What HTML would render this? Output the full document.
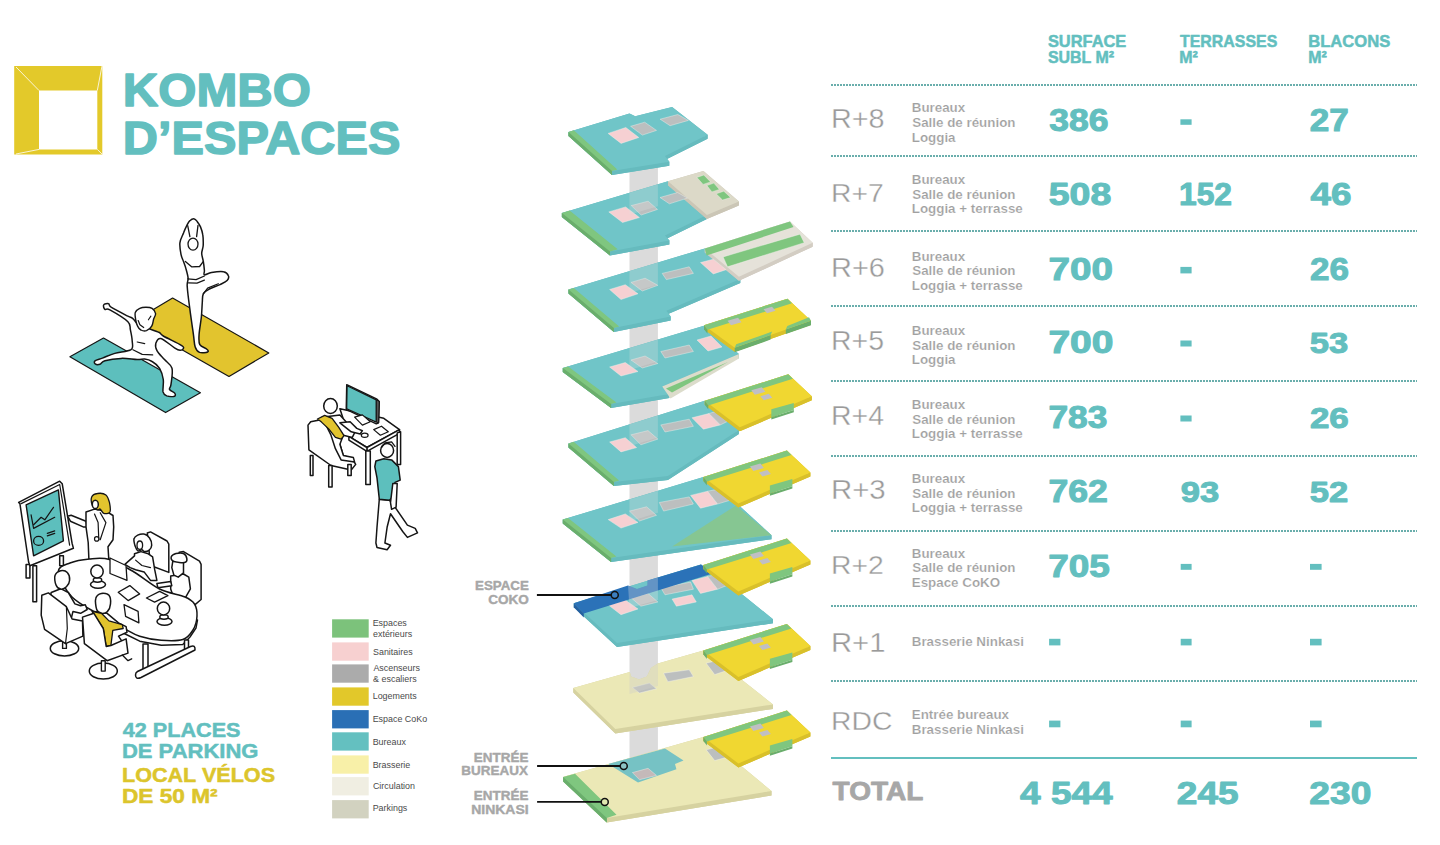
<!DOCTYPE html>
<html><head><meta charset="utf-8"><style>
html,body{margin:0;padding:0;background:#fff;width:1440px;height:845px;overflow:hidden}
svg{display:block;position:absolute;left:0;top:0}
text{font-family:"Liberation Sans",sans-serif}
</style></head><body>
<svg width="1440" height="845" viewBox="0 0 1440 845">
<defs><pattern id="dots" x="0" y="0" width="3" height="4" patternUnits="userSpaceOnUse"><rect x="0" y="0" width="2" height="4" fill="#6aaeac"/></pattern></defs>
<rect x="831" y="84" width="586" height="2" fill="url(#dots)"/>
<rect x="831" y="155" width="586" height="2" fill="url(#dots)"/>
<rect x="831" y="230" width="586" height="2" fill="url(#dots)"/>
<rect x="831" y="305" width="586" height="2" fill="url(#dots)"/>
<rect x="831" y="380" width="586" height="2" fill="url(#dots)"/>
<rect x="831" y="455" width="586" height="2" fill="url(#dots)"/>
<rect x="831" y="530" width="586" height="2" fill="url(#dots)"/>
<rect x="831" y="605" width="586" height="2" fill="url(#dots)"/>
<rect x="831" y="680" width="586" height="2" fill="url(#dots)"/>
<rect x="831" y="757" width="586" height="2" fill="#63bfbf"/>
<rect x="332.1" y="619.3" width="36.6" height="18.3" fill="#7cc27b"/>
<rect x="332.1" y="642.4" width="36.6" height="18.3" fill="#f7d0d0"/>
<rect x="332.1" y="664.4" width="36.6" height="18.3" fill="#ababab"/>
<rect x="332.1" y="687.4" width="36.6" height="18.3" fill="#e2c82a"/>
<rect x="332.1" y="710.1" width="36.6" height="18.3" fill="#2a6fb5"/>
<rect x="332.1" y="732.3" width="36.6" height="18.3" fill="#64c0c0"/>
<rect x="332.1" y="755.4" width="36.6" height="18.3" fill="#f8f0a8"/>
<rect x="332.1" y="777.1" width="36.6" height="18.3" fill="#f0eee2"/>
<rect x="332.1" y="800.1" width="36.6" height="18.3" fill="#d2d2c0"/>
<polygon points="14.2,65.9 102.3,65.9 102.3,154.4 14.2,154.4" fill="#e3c92a"/>
<polygon points="39,90.5 97.3,90.5 97.3,149.4 39,149.4" fill="#fff"/>
<g stroke="#fff" stroke-width="0.8" fill="none"><line x1="16" y1="67" x2="39" y2="90.5"/><line x1="102" y1="66" x2="97.3" y2="90.5"/><line x1="16" y1="154" x2="39" y2="149.4"/><line x1="102" y1="154" x2="97.3" y2="149.4"/></g>
<rect x="629.5" y="150" width="28.4" height="625" fill="#dbdbdb"/>
<polygon points="568.5,135.9 629.5,117.5 635.2,120.3 672.1,110.9 707.6,138.8 665.0,160.1 669.3,165.7 612.0,175.0" fill="#66bbbe"/>
<polygon points="568.5,131.9 629.5,113.5 629.5,117.5 568.5,135.9" fill="#66bbbe"/>
<polygon points="629.5,113.5 635.2,116.3 635.2,120.3 629.5,117.5" fill="#66bbbe"/>
<polygon points="635.2,116.3 672.1,106.9 672.1,110.9 635.2,120.3" fill="#66bbbe"/>
<polygon points="672.1,106.9 707.6,134.8 707.6,138.8 672.1,110.9" fill="#66bbbe"/>
<polygon points="707.6,134.8 665.0,156.1 665.0,160.1 707.6,138.8" fill="#66bbbe"/>
<polygon points="665.0,156.1 669.3,161.7 669.3,165.7 665.0,160.1" fill="#66bbbe"/>
<polygon points="669.3,161.7 612.0,171.0 612.0,175.0 669.3,165.7" fill="#66bbbe"/>
<polygon points="612.0,171.0 568.5,131.9 568.5,135.9 612.0,175.0" fill="#66bbbe"/>
<polygon points="568.5,131.9 629.5,113.5 635.2,116.3 672.1,106.9 707.6,134.8 665.0,156.1 669.3,161.7 612.0,171.0" fill="#70c5c8"/>
<polygon points="568.5,131.9 573.8,130.3 617.3,169.4 612.0,171.0 612.0,175.0 568.5,135.9" fill="#7fc67f"/>
<polygon points="612.0,171.0 612.0,175.0 568.5,135.9 568.5,131.9" fill="#6aae6c"/>
<polygon points="608.1,133.4 625.8,127.5 638.8,137.5 621.1,143.4" fill="#f6d0d2" stroke="#f4f4f0" stroke-opacity="0.5" stroke-width="0.8"/>
<polygon points="630.6,126.3 644.7,122.2 656.5,130.4 642.4,135.1" fill="#bcbfbf" stroke="#f4f4f0" stroke-opacity="0.5" stroke-width="0.8"/>
<polygon points="660.1,119.2 677.8,114.5 688.4,120.4 670.1,125.7" fill="#bcbfbf" stroke="#f4f4f0" stroke-opacity="0.5" stroke-width="0.8"/>
<polygon points="561.9,216.9 668.0,185.3 706.9,219.0 665.0,239.5 669.4,244.5 610.0,255.5" fill="#66bbbe"/>
<polygon points="561.9,212.9 668.0,181.3 668.0,185.3 561.9,216.9" fill="#66bbbe"/>
<polygon points="668.0,181.3 706.9,215.0 706.9,219.0 668.0,185.3" fill="#66bbbe"/>
<polygon points="706.9,215.0 665.0,235.5 665.0,239.5 706.9,219.0" fill="#66bbbe"/>
<polygon points="665.0,235.5 669.4,240.5 669.4,244.5 665.0,239.5" fill="#66bbbe"/>
<polygon points="669.4,240.5 610.0,251.5 610.0,255.5 669.4,244.5" fill="#66bbbe"/>
<polygon points="610.0,251.5 561.9,212.9 561.9,216.9 610.0,255.5" fill="#66bbbe"/>
<polygon points="561.9,212.9 668.0,181.3 706.9,215.0 665.0,235.5 669.4,240.5 610.0,251.5" fill="#70c5c8"/>
<polygon points="561.9,212.9 569.6,210.6 617.7,249.2 610.0,251.5 610.0,255.5 561.9,216.9" fill="#7fc67f"/>
<polygon points="610.0,251.5 610.0,255.5 561.9,216.9 561.9,212.9" fill="#6aae6c"/>
<polygon points="668.0,185.3 703.4,175.1 738.9,205.5 706.9,219.0" fill="#cbc6b6"/>
<polygon points="668.0,181.3 703.4,171.1 703.4,175.1 668.0,185.3" fill="#cbc6b6"/>
<polygon points="703.4,171.1 738.9,201.5 738.9,205.5 703.4,175.1" fill="#cbc6b6"/>
<polygon points="738.9,201.5 706.9,215.0 706.9,219.0 738.9,205.5" fill="#cbc6b6"/>
<polygon points="706.9,215.0 668.0,181.3 668.0,185.3 706.9,219.0" fill="#cbc6b6"/>
<polygon points="668.0,181.3 703.4,171.1 738.9,201.5 706.9,215.0" fill="#dcd9c8"/>
<polygon points="696.9,177.5 703.8,175.0 710.6,181.9 703.1,184.4" fill="#7fc67f" stroke="#f4f4f0" stroke-opacity="0.5" stroke-width="0.8"/>
<polygon points="706.9,185.6 713.8,183.1 719.4,189.4 711.9,191.9" fill="#7fc67f" stroke="#f4f4f0" stroke-opacity="0.5" stroke-width="0.8"/>
<polygon points="716.2,193.8 723.8,191.2 730.6,197.5 722.5,200.0" fill="#7fc67f" stroke="#f4f4f0" stroke-opacity="0.5" stroke-width="0.8"/>
<polygon points="608.8,211.9 625.6,206.9 639.4,217.5 622.5,222.5" fill="#f6d0d2" stroke="#f4f4f0" stroke-opacity="0.5" stroke-width="0.8"/>
<polygon points="631.2,205.6 648.1,201.2 657.5,209.4 641.2,215.0" fill="#bcbfbf" stroke="#f4f4f0" stroke-opacity="0.5" stroke-width="0.8"/>
<polygon points="660.0,197.5 677.5,192.5 687.5,198.1 669.4,203.8" fill="#bcbfbf" stroke="#f4f4f0" stroke-opacity="0.5" stroke-width="0.8"/>
<polygon points="629.5,192.8 657.9,184.3 657.9,206.3 629.5,214.8" fill="#e0e0e0" fill-opacity="0.28"/>
<polygon points="568.5,293.5 704.8,252.4 740.3,283.0 666.4,314.8 670.7,320.5 613.9,332.0" fill="#66bbbe"/>
<polygon points="568.5,289.5 704.8,248.4 704.8,252.4 568.5,293.5" fill="#66bbbe"/>
<polygon points="704.8,248.4 740.3,279.0 740.3,283.0 704.8,252.4" fill="#66bbbe"/>
<polygon points="740.3,279.0 666.4,310.8 666.4,314.8 740.3,283.0" fill="#66bbbe"/>
<polygon points="666.4,310.8 670.7,316.5 670.7,320.5 666.4,314.8" fill="#66bbbe"/>
<polygon points="670.7,316.5 613.9,328.0 613.9,332.0 670.7,320.5" fill="#66bbbe"/>
<polygon points="613.9,328.0 568.5,289.5 568.5,293.5 613.9,332.0" fill="#66bbbe"/>
<polygon points="568.5,289.5 704.8,248.4 740.3,279.0 666.4,310.8 670.7,316.5 613.9,328.0" fill="#70c5c8"/>
<polygon points="568.5,289.5 573.8,287.9 619.2,326.4 613.9,328.0 613.9,332.0 568.5,293.5" fill="#7fc67f"/>
<polygon points="613.9,328.0 613.9,332.0 568.5,293.5 568.5,289.5" fill="#6aae6c"/>
<polygon points="704.8,252.4 790.0,225.4 812.7,246.7 738.9,280.8" fill="#d3cdc3"/>
<polygon points="704.8,248.4 790.0,221.4 790.0,225.4 704.8,252.4" fill="#d3cdc3"/>
<polygon points="790.0,221.4 812.7,242.7 812.7,246.7 790.0,225.4" fill="#d3cdc3"/>
<polygon points="812.7,242.7 738.9,276.8 738.9,280.8 812.7,246.7" fill="#d3cdc3"/>
<polygon points="738.9,276.8 704.8,248.4 704.8,252.4 738.9,280.8" fill="#d3cdc3"/>
<polygon points="704.8,248.4 790.0,221.4 812.7,242.7 738.9,276.8" fill="#e5e2d9"/>
<polygon points="704.8,248.4 790.0,221.4 793.5,227.0 706.5,255.5" fill="#7fc67f"/>
<polygon points="723.2,256.9 800.0,234.2 804.2,242.7 727.5,266.8" fill="#7fc67f" stroke="#f4f4f0" stroke-opacity="0.5" stroke-width="0.8"/>
<polygon points="609.6,289.5 625.3,284.7 638.0,293.8 621.0,299.5" fill="#f6d0d2" stroke="#f4f4f0" stroke-opacity="0.5" stroke-width="0.8"/>
<polygon points="631.0,282.4 645.1,278.2 657.9,285.3 642.3,291.0" fill="#bcbfbf" stroke="#f4f4f0" stroke-opacity="0.5" stroke-width="0.8"/>
<polygon points="662.2,273.4 689.2,266.8 693.4,273.4 666.4,279.6" fill="#bcbfbf" stroke="#f4f4f0" stroke-opacity="0.5" stroke-width="0.8"/>
<polygon points="700.5,262.6 713.3,259.2 726.1,269.7 713.3,273.9" fill="#f6d0d2" stroke="#f4f4f0" stroke-opacity="0.5" stroke-width="0.8"/>
<polygon points="629.5,271.1 657.9,262.5 657.9,284.5 629.5,293.1" fill="#e0e0e0" fill-opacity="0.28"/>
<polygon points="562.8,372.1 704.8,329.5 738.9,358.0 662.2,390.6 669.3,398.0 611.1,408.0" fill="#66bbbe"/>
<polygon points="562.8,368.1 704.8,325.5 704.8,329.5 562.8,372.1" fill="#66bbbe"/>
<polygon points="704.8,325.5 738.9,354.0 738.9,358.0 704.8,329.5" fill="#66bbbe"/>
<polygon points="738.9,354.0 662.2,386.6 662.2,390.6 738.9,358.0" fill="#66bbbe"/>
<polygon points="662.2,386.6 669.3,394.0 669.3,398.0 662.2,390.6" fill="#66bbbe"/>
<polygon points="669.3,394.0 611.1,404.0 611.1,408.0 669.3,398.0" fill="#66bbbe"/>
<polygon points="611.1,404.0 562.8,368.1 562.8,372.1 611.1,408.0" fill="#66bbbe"/>
<polygon points="562.8,368.1 704.8,325.5 738.9,354.0 662.2,386.6 669.3,394.0 611.1,404.0" fill="#70c5c8"/>
<polygon points="562.8,368.1 568.1,366.5 616.4,402.4 611.1,404.0 611.1,408.0 562.8,372.1" fill="#7fc67f"/>
<polygon points="611.1,404.0 611.1,408.0 562.8,372.1 562.8,368.1" fill="#6aae6c"/>
<polygon points="662.2,386.6 738.9,354.0 738.9,358.5 670.5,398.5" fill="#dcdccb"/>
<polygon points="666.0,388.5 728.0,362.0 672.0,392.5" fill="#7fc67f"/>
<polygon points="609.6,367.0 625.3,362.5 638.0,371.5 621.0,376.0" fill="#f6d0d2" stroke="#f4f4f0" stroke-opacity="0.5" stroke-width="0.8"/>
<polygon points="631.0,360.0 645.1,356.0 657.9,363.5 642.3,368.0" fill="#bcbfbf" stroke="#f4f4f0" stroke-opacity="0.5" stroke-width="0.8"/>
<polygon points="660.8,351.5 689.2,345.0 693.4,351.5 665.0,358.0" fill="#bcbfbf" stroke="#f4f4f0" stroke-opacity="0.5" stroke-width="0.8"/>
<polygon points="697.0,340.0 711.0,336.0 722.0,347.0 708.0,351.0" fill="#f6d0d2" stroke="#f4f4f0" stroke-opacity="0.5" stroke-width="0.8"/>
<polygon points="629.5,348.1 657.9,339.6 657.9,361.6 629.5,370.1" fill="#e0e0e0" fill-opacity="0.28"/>
<polygon points="704.0,329.2 787.5,302.7 811.0,324.7 734.7,351.8" fill="#d9c02a"/>
<polygon points="704.0,325.2 787.5,298.7 787.5,302.7 704.0,329.2" fill="#d9c02a"/>
<polygon points="787.5,298.7 811.0,320.7 811.0,324.7 787.5,302.7" fill="#d9c02a"/>
<polygon points="811.0,320.7 734.7,347.8 734.7,351.8 811.0,324.7" fill="#d9c02a"/>
<polygon points="734.7,347.8 704.0,325.2 704.0,329.2 734.7,351.8" fill="#d9c02a"/>
<polygon points="704.0,325.2 787.5,298.7 811.0,320.7 734.7,347.8" fill="#f0d731"/>
<polygon points="704.0,325.2 787.5,298.7 792.0,303.2 707.5,329.8" fill="#7fc67f"/>
<polygon points="704.0,325.2 707.5,329.8 707.5,333.8 704.0,329.2" fill="#6aae6c"/>
<polygon points="734.7,347.8 770.6,335.1 770.6,339.6 734.7,352.3" fill="#6aae6c"/>
<polygon points="734.7,347.8 736.2,344.3 772.1,331.6 770.6,335.1" fill="#7fc67f"/>
<polygon points="785.8,329.6 811.0,320.7 811.0,325.2 785.8,334.1" fill="#6aae6c"/>
<polygon points="785.8,329.6 787.3,326.1 809.0,317.2 811.0,320.7" fill="#7fc67f"/>
<polygon points="727.5,320.7 738.0,317.7 741.5,322.2 731.0,325.2" fill="#c0bfc4"/>
<polygon points="763.5,309.2 772.0,306.7 775.5,310.7 767.0,313.2" fill="#c0bfc4"/>
<polygon points="568.5,447.4 704.8,404.8 738.9,434.0 667.9,480.0 613.9,486.0" fill="#66bbbe"/>
<polygon points="568.5,443.4 704.8,400.8 704.8,404.8 568.5,447.4" fill="#66bbbe"/>
<polygon points="704.8,400.8 738.9,430.0 738.9,434.0 704.8,404.8" fill="#66bbbe"/>
<polygon points="738.9,430.0 667.9,476.0 667.9,480.0 738.9,434.0" fill="#66bbbe"/>
<polygon points="667.9,476.0 613.9,482.0 613.9,486.0 667.9,480.0" fill="#66bbbe"/>
<polygon points="613.9,482.0 568.5,443.4 568.5,447.4 613.9,486.0" fill="#66bbbe"/>
<polygon points="568.5,443.4 704.8,400.8 738.9,430.0 667.9,476.0 613.9,482.0" fill="#70c5c8"/>
<polygon points="568.5,443.4 573.7,441.8 619.1,480.4 613.9,482.0 613.9,486.0 568.5,447.4" fill="#7fc67f"/>
<polygon points="613.9,482.0 613.9,486.0 568.5,447.4 568.5,443.4" fill="#6aae6c"/>
<polygon points="609.6,442.0 625.3,437.7 636.6,447.6 621.0,451.9" fill="#f6d0d2" stroke="#f4f4f0" stroke-opacity="0.5" stroke-width="0.8"/>
<polygon points="631.0,434.8 648.0,430.6 657.9,439.1 640.9,444.8" fill="#bcbfbf" stroke="#f4f4f0" stroke-opacity="0.5" stroke-width="0.8"/>
<polygon points="660.8,424.9 689.2,419.2 693.4,426.3 665.0,432.0" fill="#bcbfbf" stroke="#f4f4f0" stroke-opacity="0.5" stroke-width="0.8"/>
<polygon points="692.0,417.8 709.0,413.5 720.4,424.9 703.4,429.2" fill="#f6d0d2" stroke="#f4f4f0" stroke-opacity="0.5" stroke-width="0.8"/>
<polygon points="709.0,413.5 723.2,409.3 731.8,419.2 720.4,424.9" fill="#bcbfbf" stroke="#f4f4f0" stroke-opacity="0.5" stroke-width="0.8"/>
<polygon points="629.5,424.3 657.9,415.5 657.9,437.5 629.5,446.3" fill="#e0e0e0" fill-opacity="0.28"/>
<polygon points="704.8,404.8 788.3,378.3 811.8,400.3 739.8,431.3" fill="#d9c02a"/>
<polygon points="704.8,400.8 788.3,374.3 788.3,378.3 704.8,404.8" fill="#d9c02a"/>
<polygon points="788.3,374.3 811.8,396.3 811.8,400.3 788.3,378.3" fill="#d9c02a"/>
<polygon points="811.8,396.3 739.8,427.3 739.8,431.3 811.8,400.3" fill="#d9c02a"/>
<polygon points="739.8,427.3 704.8,400.8 704.8,404.8 739.8,431.3" fill="#d9c02a"/>
<polygon points="704.8,400.8 788.3,374.3 811.8,396.3 739.8,427.3" fill="#f0d731"/>
<polygon points="704.8,400.8 788.3,374.3 792.8,378.8 708.3,405.4" fill="#7fc67f"/>
<polygon points="704.8,400.8 708.3,405.4 708.3,409.4 704.8,404.8" fill="#6aae6c"/>
<polygon points="771.3,409.2 793.8,402.9 793.8,410.1 771.3,417.3" fill="#7fc67f"/>
<polygon points="771.3,417.3 793.8,410.1 793.8,412.3 771.3,419.5" fill="#6aae6c"/>
<polygon points="751.3,390.3 761.8,387.3 765.3,391.8 754.8,394.8" fill="#c0bfc4"/>
<polygon points="760.3,396.3 768.8,393.8 772.3,397.8 763.8,400.3" fill="#c0bfc4"/>
<polygon points="562.8,523.6 703.4,481.0 737.4,508.0 771.5,539.2 611.1,562.0" fill="#66bbbe"/>
<polygon points="562.8,519.6 703.4,477.0 703.4,481.0 562.8,523.6" fill="#66bbbe"/>
<polygon points="703.4,477.0 737.4,504.0 737.4,508.0 703.4,481.0" fill="#66bbbe"/>
<polygon points="737.4,504.0 771.5,535.2 771.5,539.2 737.4,508.0" fill="#66bbbe"/>
<polygon points="771.5,535.2 611.1,558.0 611.1,562.0 771.5,539.2" fill="#66bbbe"/>
<polygon points="611.1,558.0 562.8,519.6 562.8,523.6 611.1,562.0" fill="#66bbbe"/>
<polygon points="562.8,519.6 703.4,477.0 737.4,504.0 771.5,535.2 611.1,558.0" fill="#70c5c8"/>
<polygon points="562.8,519.6 568.1,518.0 616.4,556.4 611.1,558.0 611.1,562.0 562.8,523.6" fill="#7fc67f"/>
<polygon points="611.1,558.0 611.1,562.0 562.8,523.6 562.8,519.6" fill="#6aae6c"/>
<polygon points="672.1,546.6 736.0,505.4 771.5,535.2" fill="#86c692"/>
<polygon points="608.2,519.6 625.3,513.9 638.0,522.4 621.0,528.1" fill="#f6d0d2" stroke="#f4f4f0" stroke-opacity="0.5" stroke-width="0.8"/>
<polygon points="629.5,511.1 646.6,506.8 656.5,515.3 639.5,521.0" fill="#bcbfbf" stroke="#f4f4f0" stroke-opacity="0.5" stroke-width="0.8"/>
<polygon points="659.3,502.5 689.2,496.9 693.4,504.0 663.6,511.1" fill="#bcbfbf" stroke="#f4f4f0" stroke-opacity="0.5" stroke-width="0.8"/>
<polygon points="690.6,495.4 707.6,491.2 717.6,504.0 700.5,508.2" fill="#f6d0d2" stroke="#f4f4f0" stroke-opacity="0.5" stroke-width="0.8"/>
<polygon points="707.6,491.2 723.2,488.3 731.8,499.7 717.6,504.0" fill="#bcbfbf" stroke="#f4f4f0" stroke-opacity="0.5" stroke-width="0.8"/>
<polygon points="629.5,499.4 657.9,490.8 657.9,512.8 629.5,521.4" fill="#e0e0e0" fill-opacity="0.28"/>
<polygon points="703.4,481.0 786.9,454.5 810.4,476.5 738.4,507.5" fill="#d9c02a"/>
<polygon points="703.4,477.0 786.9,450.5 786.9,454.5 703.4,481.0" fill="#d9c02a"/>
<polygon points="786.9,450.5 810.4,472.5 810.4,476.5 786.9,454.5" fill="#d9c02a"/>
<polygon points="810.4,472.5 738.4,503.5 738.4,507.5 810.4,476.5" fill="#d9c02a"/>
<polygon points="738.4,503.5 703.4,477.0 703.4,481.0 738.4,507.5" fill="#d9c02a"/>
<polygon points="703.4,477.0 786.9,450.5 810.4,472.5 738.4,503.5" fill="#f0d731"/>
<polygon points="703.4,477.0 786.9,450.5 791.4,455.0 706.9,481.6" fill="#7fc67f"/>
<polygon points="703.4,477.0 706.9,481.6 706.9,485.6 703.4,481.0" fill="#6aae6c"/>
<polygon points="769.9,485.4 792.4,479.1 792.4,486.3 769.9,493.5" fill="#7fc67f"/>
<polygon points="769.9,493.5 792.4,486.3 792.4,488.5 769.9,495.7" fill="#6aae6c"/>
<polygon points="749.9,466.5 760.4,463.5 763.9,468.0 753.4,471.0" fill="#c0bfc4"/>
<polygon points="758.9,472.5 767.4,470.0 770.9,474.0 762.4,476.5" fill="#c0bfc4"/>
<polygon points="573.8,607.3 701.0,568.6 737.4,594.6 773.0,623.2 617.0,647.0" fill="#66bbbe"/>
<polygon points="573.8,603.3 701.0,564.6 701.0,568.6 573.8,607.3" fill="#66bbbe"/>
<polygon points="701.0,564.6 737.4,590.6 737.4,594.6 701.0,568.6" fill="#66bbbe"/>
<polygon points="737.4,590.6 773.0,619.2 773.0,623.2 737.4,594.6" fill="#66bbbe"/>
<polygon points="773.0,619.2 617.0,643.0 617.0,647.0 773.0,623.2" fill="#66bbbe"/>
<polygon points="617.0,643.0 573.8,603.3 573.8,607.3 617.0,647.0" fill="#66bbbe"/>
<polygon points="573.8,603.3 701.0,564.6 737.4,590.6 773.0,619.2 617.0,643.0" fill="#70c5c8"/>
<polygon points="608.2,604.8 625.3,600.0 638.0,609.0 621.0,614.7" fill="#f6d0d2" stroke="#f4f4f0" stroke-opacity="0.5" stroke-width="0.8"/>
<polygon points="631.0,597.7 648.0,593.4 657.9,602.0 640.9,606.2" fill="#bcbfbf" stroke="#f4f4f0" stroke-opacity="0.5" stroke-width="0.8"/>
<polygon points="660.8,587.7 690.6,582.1 693.4,589.2 665.0,594.8" fill="#bcbfbf" stroke="#f4f4f0" stroke-opacity="0.5" stroke-width="0.8"/>
<polygon points="692.0,580.6 707.6,576.4 717.6,589.2 700.5,593.4" fill="#f6d0d2" stroke="#f4f4f0" stroke-opacity="0.5" stroke-width="0.8"/>
<polygon points="707.6,576.4 723.2,573.5 731.8,583.5 717.6,589.2" fill="#bcbfbf" stroke="#f4f4f0" stroke-opacity="0.5" stroke-width="0.8"/>
<polygon points="672.1,599.1 692.0,594.8 696.3,602.0 676.4,606.2" fill="#f6d0d2" stroke="#f4f4f0" stroke-opacity="0.5" stroke-width="0.8"/>
<polygon points="573.8,603.3 628.0,585.6 637.0,589.0 647.5,585.6 647.5,580.5 701.0,564.6 712.5,573.5 583.8,613.5" fill="#2b72b8"/>
<polygon points="573.8,603.3 583.8,613.5 583.8,617.5 573.8,607.3" fill="#2560a0"/>
<polygon points="628.0,585.6 637.0,589.0 647.5,585.6 647.5,580.5 657.9,577.5 657.9,600.0 629.5,608.0" fill="#e6e6e6" fill-opacity="0.3"/>
<polygon points="703.4,569.0 786.9,542.5 810.4,564.5 738.4,595.5" fill="#d9c02a"/>
<polygon points="703.4,565.0 786.9,538.5 786.9,542.5 703.4,569.0" fill="#d9c02a"/>
<polygon points="786.9,538.5 810.4,560.5 810.4,564.5 786.9,542.5" fill="#d9c02a"/>
<polygon points="810.4,560.5 738.4,591.5 738.4,595.5 810.4,564.5" fill="#d9c02a"/>
<polygon points="738.4,591.5 703.4,565.0 703.4,569.0 738.4,595.5" fill="#d9c02a"/>
<polygon points="703.4,565.0 786.9,538.5 810.4,560.5 738.4,591.5" fill="#f0d731"/>
<polygon points="703.4,565.0 786.9,538.5 791.4,543.0 706.9,569.6" fill="#7fc67f"/>
<polygon points="703.4,565.0 706.9,569.6 706.9,573.6 703.4,569.0" fill="#6aae6c"/>
<polygon points="769.9,573.4 792.4,567.1 792.4,574.3 769.9,581.5" fill="#7fc67f"/>
<polygon points="769.9,581.5 792.4,574.3 792.4,576.5 769.9,583.7" fill="#6aae6c"/>
<polygon points="749.9,554.5 760.4,551.5 763.9,556.0 753.4,559.0" fill="#c0bfc4"/>
<polygon points="758.9,560.5 767.4,558.0 770.9,562.0 762.4,564.5" fill="#c0bfc4"/>
<polygon points="573.3,692.4 629.8,676.6 631.0,681.0 639.0,684.0 647.0,681.0 651.0,672.5 657.9,668.1 703.4,654.9 738.9,681.9 773.0,708.9 615.3,733.5" fill="#d6d2a0"/>
<polygon points="573.3,687.9 629.8,672.1 629.8,676.6 573.3,692.4" fill="#d6d2a0"/>
<polygon points="629.8,672.1 631.0,676.5 631.0,681.0 629.8,676.6" fill="#d6d2a0"/>
<polygon points="631.0,676.5 639.0,679.5 639.0,684.0 631.0,681.0" fill="#d6d2a0"/>
<polygon points="639.0,679.5 647.0,676.5 647.0,681.0 639.0,684.0" fill="#d6d2a0"/>
<polygon points="647.0,676.5 651.0,668.0 651.0,672.5 647.0,681.0" fill="#d6d2a0"/>
<polygon points="651.0,668.0 657.9,663.6 657.9,668.1 651.0,672.5" fill="#d6d2a0"/>
<polygon points="657.9,663.6 703.4,650.4 703.4,654.9 657.9,668.1" fill="#d6d2a0"/>
<polygon points="703.4,650.4 738.9,677.4 738.9,681.9 703.4,654.9" fill="#d6d2a0"/>
<polygon points="738.9,677.4 773.0,704.4 773.0,708.9 738.9,681.9" fill="#d6d2a0"/>
<polygon points="773.0,704.4 615.3,729.0 615.3,733.5 773.0,708.9" fill="#d6d2a0"/>
<polygon points="615.3,729.0 573.3,687.9 573.3,692.4 615.3,733.5" fill="#d6d2a0"/>
<polygon points="573.3,687.9 629.8,672.1 631.0,676.5 639.0,679.5 647.0,676.5 651.0,668.0 657.9,663.6 703.4,650.4 738.9,677.4 773.0,704.4 615.3,729.0" fill="#ebe8b6"/>
<polygon points="663.6,673.2 689.2,669.8 693.4,676.6 667.9,681.7" fill="#bcbfbf" stroke="#f4f4f0" stroke-opacity="0.5" stroke-width="0.8"/>
<polygon points="706.2,663.2 717.6,660.4 727.5,670.3 714.7,674.6" fill="#bcbfbf" stroke="#f4f4f0" stroke-opacity="0.5" stroke-width="0.8"/>
<polygon points="632.4,687.4 649.4,683.1 656.5,688.8 639.5,693.0" fill="#bcbfbf" stroke="#f4f4f0" stroke-opacity="0.5" stroke-width="0.8"/>
<polygon points="629.5,672.1 631.0,676.5 639.0,679.5 647.0,676.5 651.0,668.0 657.9,663.6 657.9,686.0 629.5,694.0" fill="#cfcfc8" fill-opacity="0.4"/>
<polygon points="703.4,654.4 786.9,627.9 810.4,649.9 738.4,680.9" fill="#d9c02a"/>
<polygon points="703.4,650.4 786.9,623.9 786.9,627.9 703.4,654.4" fill="#d9c02a"/>
<polygon points="786.9,623.9 810.4,645.9 810.4,649.9 786.9,627.9" fill="#d9c02a"/>
<polygon points="810.4,645.9 738.4,676.9 738.4,680.9 810.4,649.9" fill="#d9c02a"/>
<polygon points="738.4,676.9 703.4,650.4 703.4,654.4 738.4,680.9" fill="#d9c02a"/>
<polygon points="703.4,650.4 786.9,623.9 810.4,645.9 738.4,676.9" fill="#f0d731"/>
<polygon points="703.4,650.4 786.9,623.9 791.4,628.4 706.9,655.0" fill="#7fc67f"/>
<polygon points="703.4,650.4 706.9,655.0 706.9,659.0 703.4,654.4" fill="#6aae6c"/>
<polygon points="769.9,658.8 792.4,652.5 792.4,659.7 769.9,666.9" fill="#7fc67f"/>
<polygon points="769.9,666.9 792.4,659.7 792.4,661.9 769.9,669.1" fill="#6aae6c"/>
<polygon points="749.9,639.9 760.4,636.9 763.9,641.4 753.4,644.4" fill="#c0bfc4"/>
<polygon points="758.9,645.9 767.4,643.4 770.9,647.4 762.4,649.9" fill="#c0bfc4"/>
<polygon points="563.6,781.3 703.4,741.5 738.9,768.5 771.5,795.5 606.8,822.5" fill="#d6d2a0"/>
<polygon points="563.6,776.8 703.4,737.0 703.4,741.5 563.6,781.3" fill="#d6d2a0"/>
<polygon points="703.4,737.0 738.9,764.0 738.9,768.5 703.4,741.5" fill="#d6d2a0"/>
<polygon points="738.9,764.0 771.5,791.0 771.5,795.5 738.9,768.5" fill="#d6d2a0"/>
<polygon points="771.5,791.0 606.8,818.0 606.8,822.5 771.5,795.5" fill="#d6d2a0"/>
<polygon points="606.8,818.0 563.6,776.8 563.6,781.3 606.8,822.5" fill="#d6d2a0"/>
<polygon points="563.6,776.8 703.4,737.0 738.9,764.0 771.5,791.0 606.8,818.0" fill="#ebe8b6"/>
<polygon points="563.1,777.0 575.0,773.8 616.5,814.8 606.8,818.0 606.8,822.5 563.1,781.5" fill="#7fc67f"/>
<polygon points="606.8,818.0 606.8,822.5 563.1,781.5 563.1,777.0" fill="#6aae6c"/>
<polygon points="608.2,764.0 665.0,748.4 683.5,760.6 675.0,764.0 676.4,769.2 638.0,782.5" fill="#76c2c4"/>
<polygon points="632.4,772.6 648.0,768.3 656.5,775.4 639.5,779.7" fill="#c4b9b9" stroke="#f4f4f0" stroke-opacity="0.5" stroke-width="0.8"/>
<polygon points="706.2,749.8 717.6,747.0 727.5,757.0 714.7,760.6" fill="#bcbfbf" stroke="#f4f4f0" stroke-opacity="0.5" stroke-width="0.8"/>
<polygon points="703.4,741.0 786.9,714.5 810.4,736.5 738.4,767.5" fill="#d9c02a"/>
<polygon points="703.4,737.0 786.9,710.5 786.9,714.5 703.4,741.0" fill="#d9c02a"/>
<polygon points="786.9,710.5 810.4,732.5 810.4,736.5 786.9,714.5" fill="#d9c02a"/>
<polygon points="810.4,732.5 738.4,763.5 738.4,767.5 810.4,736.5" fill="#d9c02a"/>
<polygon points="738.4,763.5 703.4,737.0 703.4,741.0 738.4,767.5" fill="#d9c02a"/>
<polygon points="703.4,737.0 786.9,710.5 810.4,732.5 738.4,763.5" fill="#f0d731"/>
<polygon points="703.4,737.0 786.9,710.5 791.4,715.0 706.9,741.6" fill="#7fc67f"/>
<polygon points="703.4,737.0 706.9,741.6 706.9,745.6 703.4,741.0" fill="#6aae6c"/>
<polygon points="769.9,745.4 792.4,739.1 792.4,746.3 769.9,753.5" fill="#7fc67f"/>
<polygon points="769.9,753.5 792.4,746.3 792.4,748.5 769.9,755.7" fill="#6aae6c"/>
<polygon points="749.9,726.5 760.4,723.5 763.9,728.0 753.4,731.0" fill="#c0bfc4"/>
<polygon points="758.9,732.5 767.4,730.0 770.9,734.0 762.4,736.5" fill="#c0bfc4"/>
<g stroke="#111" stroke-width="1.8"><line x1="536.9" y1="595" x2="611.5" y2="595"/><line x1="537.1" y1="766" x2="620.4" y2="766"/><line x1="537.1" y1="801.9" x2="601.4" y2="801.9"/></g>
<g stroke="#111" stroke-width="1.5"><circle cx="614.75" cy="595" r="3.5" fill="#3d7fc0"/><circle cx="623.75" cy="766" r="3.5" fill="#8cc4c4"/><circle cx="604.75" cy="801.9" r="3.5" fill="#e0e8b0"/></g>
<polygon points="69.9,356.7 103.5,338.0 200.4,392.7 165.6,412.6" fill="#5dbfbd" stroke="#151515" stroke-width="1.2" stroke-linejoin="round"/>
<polygon points="172.6,298.1 268.8,352.9 229.0,376.5 132.8,321.7" fill="#e2c42e" stroke="#151515" stroke-width="1.2" stroke-linejoin="round"/>
<path d="M189.9,220.7 C191.1,219.6 193.0,218.7 194.3,218.9 C195.5,219.1 196.3,220.4 197.3,221.7 C198.3,223.0 199.6,224.7 200.5,226.9 C201.4,229.1 202.4,231.7 202.8,234.9 C203.3,238.0 203.3,242.4 203.2,245.5 C203.0,248.6 201.7,250.8 201.7,253.5 C201.8,256.2 202.9,258.7 203.3,261.5 C203.8,264.3 204.2,268.1 204.4,270.4 C204.6,272.6 203.2,274.4 204.4,274.8 C205.6,275.2 208.3,273.0 211.5,272.5 C214.7,272.0 220.8,271.2 223.6,271.8 C226.4,272.3 227.8,274.2 228.4,275.7 C229.0,277.1 228.5,279.0 227.1,280.5 C225.7,282.0 223.0,283.1 220.0,284.6 C217.1,286.0 212.2,287.5 209.4,289.0 C206.6,290.5 204.5,291.6 203.3,293.8 C202.2,296.0 202.6,298.5 202.3,302.3 C202.0,306.1 201.9,311.2 201.4,316.5 C200.9,321.8 199.4,329.6 199.1,334.3 C198.8,338.9 198.5,342.1 199.8,344.6 C201.1,347.0 205.6,347.9 206.9,349.2 C208.2,350.4 208.8,351.5 207.6,352.0 C206.4,352.6 201.7,353.2 199.6,352.4 C197.5,351.5 196.2,350.1 195.2,347.0 C194.1,344.0 194.3,340.5 193.4,334.3 C192.5,328.0 190.9,317.4 189.9,309.4 C188.8,301.4 187.5,291.5 187.2,286.3 C186.9,281.2 188.3,281.3 188.1,278.3 C187.9,275.4 186.7,271.4 185.9,268.6 C185.2,265.8 184.3,263.8 183.5,261.5 C182.6,259.1 181.6,257.5 181.0,254.4 C180.4,251.3 179.5,246.4 179.9,242.8 C180.3,239.3 182.3,236.0 183.5,233.1 C184.6,230.1 185.9,227.2 187.0,225.1 C188.1,223.0 188.6,221.7 189.9,220.7 Z" fill="#fff" stroke="#151515" stroke-width="1.5" stroke-linejoin="round" stroke-linecap="round"/>
<ellipse cx="193.0" cy="244.1" rx="5.0" ry="6.0" fill="#fff" stroke="#151515" stroke-width="1.3"/>
<polyline points="187.7,225.6 189.9,236.6" fill="none" stroke="#151515" stroke-width="1.3" stroke-linejoin="round" stroke-linecap="round"/>
<polyline points="198.0,225.3 196.6,236.6" fill="none" stroke="#151515" stroke-width="1.3" stroke-linejoin="round" stroke-linecap="round"/>
<polyline points="185.4,261.5 191.6,266.8 199.6,266.5 203.0,261.8" fill="none" stroke="#151515" stroke-width="1.3" stroke-linejoin="round" stroke-linecap="round"/>
<polyline points="187.7,278.9 196.1,279.6 204.4,276.0" fill="none" stroke="#151515" stroke-width="1.3" stroke-linejoin="round" stroke-linecap="round"/>
<polyline points="188.4,282.8 197.0,283.1 204.4,280.1" fill="none" stroke="#151515" stroke-width="1.2" stroke-linejoin="round" stroke-linecap="round"/>
<polyline points="203.3,293.8 207.6,288.1 218.3,283.7" fill="none" stroke="#151515" stroke-width="1.2" stroke-linejoin="round" stroke-linecap="round"/>
<path d="M103.7,304.9 C104.3,304.0 107.4,303.3 108.6,303.7 C109.9,304.1 108.0,305.1 111.1,307.2 C114.2,309.2 123.6,314.0 127.3,315.9 C130.9,317.8 130.8,316.9 132.9,318.6 C134.9,320.3 137.1,324.4 139.7,326.1 C142.3,327.7 145.2,327.5 148.4,328.5 C151.6,329.6 156.5,331.0 158.9,332.3 C161.4,333.5 159.6,333.8 163.3,336.0 C167.0,338.2 178.0,343.2 181.3,345.3 C184.7,347.4 183.6,347.6 183.4,348.4 C183.2,349.2 181.6,350.4 180.1,350.3 C178.6,350.2 177.7,349.8 174.5,347.8 C171.3,345.8 163.9,339.2 160.8,338.5 C157.7,337.8 156.5,341.4 155.8,343.4 C155.2,345.5 155.6,348.2 157.1,350.9 C158.5,353.6 162.0,356.7 164.5,359.6 C167.0,362.5 170.9,364.2 172.0,368.3 C173.1,372.4 171.4,380.9 171.0,384.4 C170.6,388.0 168.9,388.0 169.5,389.4 C170.1,390.9 173.9,392.0 174.7,393.1 C175.5,394.3 175.8,395.8 174.5,396.2 C173.1,396.7 168.7,396.6 166.8,395.9 C164.9,395.1 163.6,394.6 163.0,391.9 C162.5,389.2 163.9,383.4 163.3,379.5 C162.7,375.5 161.4,371.3 159.6,368.3 C157.7,365.3 154.6,363.0 152.1,361.5 C149.6,359.9 147.1,359.3 144.7,359.0 C142.2,358.7 141.1,359.7 137.2,359.6 C133.3,359.5 126.4,358.1 121.1,358.4 C115.7,358.6 108.4,359.8 104.9,360.8 C101.4,361.8 101.6,363.8 99.9,364.3 C98.3,364.8 96.0,364.5 95.2,363.9 C94.4,363.4 93.8,361.8 95.0,360.8 C96.2,359.9 99.1,359.3 102.4,358.1 C105.7,356.9 110.1,354.8 114.8,353.4 C119.6,352.0 128.1,351.7 131.0,349.7 C133.9,347.6 132.3,344.3 132.2,341.0 C132.1,337.7 131.1,333.0 130.4,329.8 C129.6,326.6 131.3,325.0 127.9,321.7 C124.5,318.4 113.7,312.0 109.9,309.9 C106.0,307.8 105.9,310.1 104.9,309.3 C103.9,308.5 103.0,305.9 103.7,304.9 Z" fill="#fff" stroke="#151515" stroke-width="1.5" stroke-linejoin="round" stroke-linecap="round"/>
<path d="M135.3,312.4 C136.0,310.5 137.9,309.3 139.7,308.4 C141.4,307.5 143.8,307.2 145.9,307.2 C148.0,307.2 150.5,307.3 152.1,308.4 C153.7,309.5 155.3,311.8 155.6,313.6 C155.8,315.4 154.2,317.2 153.6,319.2 C153.0,321.3 152.9,324.2 151.7,326.1 C150.6,328.0 148.3,330.0 146.5,330.7 C144.7,331.3 142.4,330.8 140.9,330.0 C139.4,329.3 138.4,327.8 137.6,326.1 C136.7,324.4 136.1,322.1 135.7,319.8 C135.3,317.6 134.7,314.3 135.3,312.4 Z" fill="#fff" stroke="#151515" stroke-width="1.4" stroke-linejoin="round" stroke-linecap="round"/>
<polyline points="138.2,320.5 139.9,324.8 143.7,327.5" fill="none" stroke="#151515" stroke-width="1.2" stroke-linejoin="round" stroke-linecap="round"/>
<polyline points="137.2,342.0 144.7,343.7" fill="none" stroke="#151515" stroke-width="1.2" stroke-linejoin="round" stroke-linecap="round"/>
<polyline points="132.9,349.7 142.2,354.4 152.7,354.9" fill="none" stroke="#151515" stroke-width="1.2" stroke-linejoin="round" stroke-linecap="round"/>
<polyline points="148.4,319.8 150.9,316.1" fill="none" stroke="#151515" stroke-width="1.1" stroke-linejoin="round" stroke-linecap="round"/>
<polygon points="308.0,425.1 308.9,449.8 331.0,465.5 351.2,470.0 355.7,464.4 352.3,458.8 343.3,455.4 339.9,444.2 335.4,430.7 322.0,419.4 310.7,421.7" fill="#fff" stroke="#151515" stroke-width="1.5" stroke-linejoin="round"/>
<polygon points="310.3,455.4 313.0,455.4 313.0,475.6 310.3,475.6" fill="#fff" stroke="#151515" stroke-width="1.5" stroke-linejoin="round"/>
<polygon points="328.7,465.5 332.1,465.5 332.1,486.9 328.7,486.9" fill="#fff" stroke="#151515" stroke-width="1.5" stroke-linejoin="round"/>
<polygon points="347.8,464.4 351.2,464.4 351.2,475.6 347.8,475.6" fill="#fff" stroke="#151515" stroke-width="1.5" stroke-linejoin="round"/>
<polygon points="339.9,408.7 383.8,418.3 399.5,429.6 366.9,447.5 348.9,436.3" fill="#fff" stroke="#151515" stroke-width="1.5" stroke-linejoin="round"/>
<polygon points="366.9,447.5 399.5,429.6 399.5,433.4 366.9,451.3" fill="#fff" stroke="#151515" stroke-width="1.5" stroke-linejoin="round"/>
<polygon points="348.9,436.3 366.9,447.5 366.9,451.3 348.9,440.1" fill="#fff" stroke="#151515" stroke-width="1.5" stroke-linejoin="round"/>
<polygon points="365.8,450.9 370.3,450.9 370.3,484.6 365.8,484.6" fill="#fff" stroke="#151515" stroke-width="1.5" stroke-linejoin="round"/>
<polygon points="397.2,432.9 400.6,431.8 400.6,464.4 397.2,464.4" fill="#fff" stroke="#151515" stroke-width="1.5" stroke-linejoin="round"/>
<polygon points="346.7,384.6 377.0,399.2 379.3,401.5 378.6,422.8 376.3,423.9 346.2,409.3" fill="#fff" stroke="#151515" stroke-width="1.4" stroke-linejoin="round"/>
<polygon points="347.1,385.7 376.3,399.9 376.3,422.1 346.7,408.7" fill="#5dbfbd" stroke="#151515" stroke-width="1.2" stroke-linejoin="round"/>
<polygon points="376.3,399.9 379.3,401.5 378.6,422.8 376.3,422.1" fill="#555" stroke="#151515" stroke-width="1.0" stroke-linejoin="round"/>
<polygon points="354.6,417.2 362.4,414.9 370.3,421.7 362.4,425.1" fill="#fff" stroke="#151515" stroke-width="1.2" stroke-linejoin="round"/>
<polygon points="373.7,429.6 381.5,426.2 388.3,431.8 380.4,435.2" fill="#fff" stroke="#151515" stroke-width="1.2" stroke-linejoin="round"/>
<ellipse cx="364.7" cy="435.2" rx="3.4" ry="2.1" fill="#fff" stroke="#151515" stroke-width="1.2"/>
<ellipse cx="330.5" cy="406.0" rx="6.8" ry="7.5" fill="#fff" stroke="#151515" stroke-width="1.5"/>
<polygon points="322.0,417.2 339.9,414.9 350.1,426.2 355.7,430.7 352.3,437.4 343.3,435.2 339.9,444.2 343.3,455.4 353.4,457.6 354.6,462.1 341.1,459.9 335.4,448.7 331.0,435.2" fill="#fff" stroke="#151515" stroke-width="1.5" stroke-linejoin="round"/>
<polygon points="317.5,419.0 324.7,415.4 332.1,418.3 338.8,427.3 344.0,435.6 341.1,439.2 335.4,437.4 328.7,428.9 321.5,422.1" fill="#e2c42e" stroke="#151515" stroke-width="1.3" stroke-linejoin="round"/>
<polygon points="339.9,422.8 350.1,421.7 356.8,428.4 362.4,430.7 360.2,434.0 351.2,431.8" fill="#fff" stroke="#151515" stroke-width="1.5" stroke-linejoin="round"/>
<polygon points="379.3,499.2 389.4,500.3 395.0,507.1 407.4,525.1 415.2,528.4 417.5,532.9 407.4,537.4 402.9,531.8 390.5,513.8 387.1,527.3 384.9,543.0 390.5,545.3 387.1,549.8 377.0,547.5 375.9,543.0 377.0,527.3" fill="#fff" stroke="#151515" stroke-width="1.5" stroke-linejoin="round"/>
<polygon points="375.9,461.0 383.8,458.8 391.6,459.9 398.4,466.6 400.2,480.1 395.0,482.4 393.9,495.8 389.4,500.3 379.3,499.2 377.0,477.9 374.8,466.6" fill="#5dbfbd" stroke="#151515" stroke-width="1.5" stroke-linejoin="round"/>
<polygon points="392.8,483.5 397.2,483.5 396.1,507.1 391.6,509.3 390.5,502.6" fill="#fff" stroke="#151515" stroke-width="1.5" stroke-linejoin="round"/>
<ellipse cx="387.1" cy="450.4" rx="6.5" ry="7.0" fill="#fff" stroke="#151515" stroke-width="1.5"/>
<polyline points="381.5,447.5 384.9,443.0 391.6,441.9 395.0,446.4" fill="none" stroke="#151515" stroke-width="1.3" stroke-linejoin="round" stroke-linecap="round"/>
<polygon points="26.1,564.5 29.9,564.5 29.9,578.1 26.1,578.1" fill="#fff" stroke="#151515" stroke-width="1.5" stroke-linejoin="round"/>
<polygon points="32.9,565.7 36.6,565.7 36.6,601.7 32.9,601.7" fill="#fff" stroke="#151515" stroke-width="1.5" stroke-linejoin="round"/>
<polygon points="59.7,555.8 63.4,555.8 63.4,565.7 59.7,565.7" fill="#fff" stroke="#151515" stroke-width="1.5" stroke-linejoin="round"/>
<polygon points="18.7,502.4 59.7,481.2 62.2,483.7 72.1,543.4 73.4,548.3 29.9,565.7 28.6,562.0 19.9,503.6" fill="#fff" stroke="#151515" stroke-width="1.5" stroke-linejoin="round"/>
<polyline points="21.2,503.6 59.7,484.5 69.6,545.1" fill="none" stroke="#151515" stroke-width="1.2" stroke-linejoin="round" stroke-linecap="round"/>
<polygon points="26.1,504.8 58.4,489.9 63.4,540.9 33.6,555.8" fill="#5dbfbd" stroke="#151515" stroke-width="1.4" stroke-linejoin="round"/>
<polyline points="31.1,514.8 33.6,528.4 54.7,517.3" fill="none" stroke="#151515" stroke-width="1.2" stroke-linejoin="round" stroke-linecap="round"/>
<polyline points="33.6,524.7 41.1,517.3 44.8,519.8 53.5,507.3" fill="none" stroke="#151515" stroke-width="1.2" stroke-linejoin="round" stroke-linecap="round"/>
<ellipse cx="38.6" cy="540.9" rx="5.0" ry="4.5" fill="#5dbfbd" stroke="#151515" stroke-width="1.3"/>
<polyline points="47.3,533.4 54.7,530.9" fill="none" stroke="#151515" stroke-width="1.2" stroke-linejoin="round" stroke-linecap="round"/>
<polyline points="47.3,535.9 54.7,533.4" fill="none" stroke="#151515" stroke-width="1.2" stroke-linejoin="round" stroke-linecap="round"/>
<polygon points="67.6,516.2 71.1,515.2 86.0,521.2 87.4,526.9 83.2,526.9 70.4,521.2" fill="#fff" stroke="#151515" stroke-width="1.5" stroke-linejoin="round"/>
<polygon points="86.0,512.0 94.5,509.1 105.9,511.2 113.0,515.5 113.7,526.9 113.0,539.7 108.0,546.8 108.8,559.5 88.9,559.5 88.2,542.5 86.0,526.9" fill="#fff" stroke="#151515" stroke-width="1.5" stroke-linejoin="round"/>
<path d="M91.7,497.0 C92.5,495.0 95.0,493.8 97.4,493.5 C99.8,493.1 103.9,493.4 105.9,494.9 C107.9,496.5 108.8,499.9 109.5,502.7 C110.1,505.6 110.8,510.2 109.9,512.0 C108.9,513.7 105.4,513.9 103.8,513.4 C102.2,512.9 101.3,509.7 100.2,509.1 C99.2,508.5 98.7,510.4 97.4,509.8 C96.1,509.2 93.4,507.7 92.4,505.6 C91.5,503.4 90.9,499.1 91.7,497.0 Z" fill="#e2c42e" stroke="#151515" stroke-width="1.3" stroke-linejoin="round" stroke-linecap="round"/>
<ellipse cx="95.3" cy="504.4" rx="3.0" ry="4.2" fill="#fff" stroke="#151515" stroke-width="1.5"/>
<polyline points="94.5,514.1 98.1,522.6 98.8,539.7" fill="none" stroke="#151515" stroke-width="1.2" stroke-linejoin="round" stroke-linecap="round"/>
<polyline points="100.2,512.7 105.9,522.6 100.2,539.7" fill="none" stroke="#151515" stroke-width="1.2" stroke-linejoin="round" stroke-linecap="round"/>
<ellipse cx="96.7" cy="538.9" rx="2.2" ry="2.2" fill="#fff" stroke="#151515" stroke-width="1.2"/>
<polygon points="147.3,533.0 150.5,531.9 167.0,541.0 168.8,544.2 168.8,572.4 150.5,565.5" fill="#fff" stroke="#151515" stroke-width="1.5" stroke-linejoin="round"/>
<polygon points="179.2,552.2 183.5,551.6 199.5,561.2 201.1,564.4 201.1,599.5 193.6,605.9 184.5,601.7" fill="#fff" stroke="#151515" stroke-width="1.5" stroke-linejoin="round"/>
<polygon points="134.5,553.8 140.9,551.6 148.3,553.8 152.6,556.9 154.7,569.7 156.9,580.4 150.5,580.4 144.1,571.9 135.6,569.7 130.2,567.6 124.9,564.4 134.5,555.9" fill="#fff" stroke="#151515" stroke-width="1.5" stroke-linejoin="round"/>
<path d="M134.0,538.8 C134.4,537.0 136.0,535.9 137.7,535.1 C139.4,534.3 142.1,533.6 144.1,534.1 C146.0,534.5 148.1,535.9 149.4,537.8 C150.7,539.6 151.8,543.1 151.7,545.2 C151.7,547.3 150.1,549.3 148.9,550.3 C147.6,551.4 145.2,551.5 144.1,551.4 C142.9,551.3 143.0,549.8 141.9,549.7 C140.9,549.6 139.0,551.4 137.9,550.8 C136.8,550.2 135.8,548.1 135.1,546.1 C134.5,544.1 133.5,540.7 134.0,538.8 Z" fill="#fff" stroke="#151515" stroke-width="1.5" stroke-linejoin="round" stroke-linecap="round"/>
<ellipse cx="139.8" cy="545.2" rx="2.8" ry="4.2" fill="#fff" stroke="#151515" stroke-width="1.3"/>
<polyline points="135.6,560.1 141.9,565.5 150.5,567.6" fill="none" stroke="#151515" stroke-width="1.2" stroke-linejoin="round" stroke-linecap="round"/>
<polygon points="170.7,576.1 183.5,574.0 188.8,577.2 190.4,588.9 186.7,595.3 184.5,599.5 173.9,598.5 170.7,588.9" fill="#fff" stroke="#151515" stroke-width="1.5" stroke-linejoin="round"/>
<polygon points="172.8,561.2 183.5,562.3 183.5,572.9 178.2,577.2 173.9,575.1 171.8,567.6" fill="#fff" stroke="#151515" stroke-width="1.5" stroke-linejoin="round"/>
<path d="M171.2,556.9 C171.6,555.6 174.0,554.1 176.0,553.5 C178.1,553.0 181.7,552.7 183.5,553.5 C185.3,554.4 186.7,557.4 186.9,558.9 C187.1,560.4 186.7,562.1 184.5,562.5 C182.4,562.9 176.1,562.3 173.9,561.4 C171.7,560.5 170.9,558.3 171.2,556.9 Z" fill="#fff" stroke="#151515" stroke-width="1.5" stroke-linejoin="round" stroke-linecap="round"/>
<polygon points="156.9,583.6 170.7,581.4 171.8,585.7 157.9,587.8" fill="#fff" stroke="#151515" stroke-width="1.5" stroke-linejoin="round"/>
<path d="M58.4,571.9 C58.1,566.2 64.8,565.1 70.0,563.0 C75.2,560.9 82.9,559.6 89.5,559.0 C96.1,558.4 102.0,557.3 109.4,559.5 C116.8,561.7 125.6,567.1 134.0,572.0 C142.4,576.9 151.1,584.8 159.6,589.0 C168.1,593.2 179.2,594.5 185.0,597.0 C190.8,599.5 192.5,600.8 194.5,604.0 C196.5,607.2 197.2,611.7 197.0,616.0 C196.8,620.3 195.4,626.1 193.0,630.0 C190.6,633.9 188.1,637.8 182.8,639.5 C177.5,641.2 168.5,640.8 161.3,640.3 C154.1,639.8 146.0,638.2 139.7,636.2 C133.3,634.2 129.8,631.5 123.2,628.0 C116.6,624.5 108.5,620.2 100.0,615.0 C91.5,609.8 78.9,604.2 72.0,597.0 C65.1,589.8 58.7,577.6 58.4,571.9 Z" fill="#fff" stroke="#151515" stroke-width="1.5" stroke-linejoin="round" stroke-linecap="round"/>
<polyline points="197.5,620.0 196.0,628.0 190.0,637.0 182.8,644.5 161.3,645.3 139.7,641.2 123.2,633.0" fill="none" stroke="#151515" stroke-width="1.4" stroke-linejoin="round" stroke-linecap="round"/>
<polygon points="143.0,644.0 148.0,644.0 148.0,669.3 143.0,669.3" fill="#fff" stroke="#151515" stroke-width="1.5" stroke-linejoin="round"/>
<polygon points="184.5,640.0 188.5,640.0 188.5,649.5 184.5,649.5" fill="#fff" stroke="#151515" stroke-width="1.5" stroke-linejoin="round"/>
<path d="M137.5,671.5 L190.5,646.5 Q195.5,644.5 195,650 L141,677.5 Q135.5,680 135.5,675 Q135.5,672.5 137.5,671.5 Z" fill="#fff" stroke="#151515" stroke-width="1.5" stroke-linejoin="round"/>
<polygon points="110.0,558.0 126.0,565.5 127.0,580.4 110.0,573.5" fill="#fff" stroke="#151515" stroke-width="1.3" stroke-linejoin="round"/>
<polygon points="118.2,592.3 129.8,585.6 139.7,593.9 128.1,600.6" fill="#fff" stroke="#151515" stroke-width="1.3" stroke-linejoin="round"/>
<polygon points="146.4,598.0 159.6,591.4 167.9,595.6 154.6,602.2" fill="#fff" stroke="#151515" stroke-width="1.3" stroke-linejoin="round"/>
<polygon points="124.0,604.7 138.1,611.3 138.9,622.9 125.6,616.3" fill="#fff" stroke="#151515" stroke-width="1.3" stroke-linejoin="round"/>
<ellipse cx="98.0" cy="584.5" rx="7.5" ry="3.8" fill="#fff" stroke="#151515" stroke-width="1.5"/>
<ellipse cx="97.5" cy="580.0" rx="4.2" ry="2.2" fill="#fff" stroke="#151515" stroke-width="1.5"/>
<ellipse cx="97.0" cy="571.5" rx="6.2" ry="6.5" fill="#fff" stroke="#151515" stroke-width="1.5"/>
<ellipse cx="164.5" cy="621.5" rx="7.5" ry="3.8" fill="#fff" stroke="#151515" stroke-width="1.5"/>
<ellipse cx="164.0" cy="617.0" rx="4.2" ry="2.2" fill="#fff" stroke="#151515" stroke-width="1.5"/>
<ellipse cx="163.5" cy="608.5" rx="6.2" ry="6.5" fill="#fff" stroke="#151515" stroke-width="1.5"/>
<ellipse cx="64.5" cy="648.4" rx="14.2" ry="7.6" fill="#fff" stroke="#151515" stroke-width="1.5"/>
<polygon points="62.6,638.0 66.4,638.0 66.4,648.4 62.6,648.4" fill="#fff" stroke="#151515" stroke-width="1.4" stroke-linejoin="round"/>
<polygon points="51.2,592.5 60.7,588.7 68.3,592.5 74.9,603.9 80.6,605.8 85.3,604.8 87.2,609.5 80.6,613.3 73.0,611.4 71.1,619.0 65.5,628.5 52.2,619.0 48.4,605.8" fill="#fff" stroke="#151515" stroke-width="1.5" stroke-linejoin="round"/>
<path d="M55.0,575.5 C55.8,573.1 58.7,571.2 60.7,570.7 C62.8,570.2 65.9,571.0 67.3,572.6 C68.8,574.2 69.8,577.8 69.6,580.2 C69.5,582.6 67.9,585.3 66.4,586.8 C64.9,588.3 62.5,589.4 60.7,589.1 C59.0,588.8 56.9,587.2 56.0,584.9 C55.0,582.7 54.2,577.8 55.0,575.5 Z" fill="#fff" stroke="#151515" stroke-width="1.5" stroke-linejoin="round" stroke-linecap="round"/>
<polygon points="41.8,595.3 48.4,592.9 66.4,606.7 72.1,619.0 82.5,620.9 82.9,636.1 65.5,643.6 44.6,629.4 41.2,615.2" fill="#fff" stroke="#151515" stroke-width="1.5" stroke-linejoin="round"/>
<polyline points="66.4,606.7 67.3,628.5 65.5,643.6" fill="none" stroke="#151515" stroke-width="1.2" stroke-linejoin="round" stroke-linecap="round"/>
<ellipse cx="103.3" cy="671.1" rx="14.0" ry="8.0" fill="#fff" stroke="#151515" stroke-width="1.5"/>
<polygon points="101.4,660.7 105.2,660.7 105.2,671.1 101.4,671.1" fill="#fff" stroke="#151515" stroke-width="1.4" stroke-linejoin="round"/>
<polygon points="93.9,611.4 107.1,613.3 118.5,622.8 126.1,626.6 127.0,632.3 118.5,636.1 126.1,647.4 122.3,655.0 109.0,651.2 95.8,636.1 90.1,619.0" fill="#fff" stroke="#151515" stroke-width="1.5" stroke-linejoin="round"/>
<path d="M95.8,598.2 C96.5,595.5 99.2,593.9 101.4,593.4 C103.6,593.0 107.5,593.6 109.0,595.3 C110.5,597.1 110.8,601.2 110.5,603.9 C110.3,606.5 109.0,609.9 107.5,611.4 C106.0,613.0 103.2,613.6 101.4,613.3 C99.6,613.0 97.7,612.1 96.7,609.5 C95.8,607.0 95.0,600.9 95.8,598.2 Z" fill="#fff" stroke="#151515" stroke-width="1.5" stroke-linejoin="round" stroke-linecap="round"/>
<polygon points="92.0,611.4 101.4,613.3 109.0,620.9 122.3,624.7 123.2,628.5 112.8,630.4 110.9,645.5 106.2,646.5 103.3,628.5" fill="#e2c42e" stroke="#151515" stroke-width="1.3" stroke-linejoin="round"/>
<polygon points="82.5,617.1 93.9,613.3 103.3,628.5 106.2,646.5 110.9,645.5 126.1,638.9 128.0,653.1 107.1,660.7 84.4,643.6" fill="#fff" stroke="#151515" stroke-width="1.5" stroke-linejoin="round"/>
<polyline points="122.3,655.0 128.0,660.7 131.7,658.8" fill="none" stroke="#151515" stroke-width="1.3" stroke-linejoin="round" stroke-linecap="round"/>
<text x="122.81" y="106.15" font-size="46.43" font-weight="bold" fill="#63bfbf" stroke="#63bfbf" stroke-width="1.5" stroke-linejoin="round" transform="matrix(1.0570,0,0,1,-7.00,0)">KOMBO</text>
<text x="122.83" y="154.05" font-size="47.00" font-weight="bold" fill="#63bfbf" stroke="#63bfbf" stroke-width="1.5" stroke-linejoin="round" transform="matrix(1.0354,0,0,1,-4.34,0)">D’ESPACES</text>
<text x="122.83" y="736.65" font-size="20.71" font-weight="bold" fill="#63bfbf" stroke="#63bfbf" stroke-width="0.5" stroke-linejoin="round" transform="matrix(1.0434,0,0,1,-5.33,0)">42 PLACES</text>
<text x="121.93" y="758.50" font-size="20.36" font-weight="bold" fill="#63bfbf" stroke="#63bfbf" stroke-width="0.5" stroke-linejoin="round" transform="matrix(1.0815,0,0,1,-9.94,0)">DE PARKING</text>
<text x="121.95" y="781.65" font-size="19.86" font-weight="bold" fill="#dcc52c" stroke="#dcc52c" stroke-width="0.5" stroke-linejoin="round" transform="matrix(1.0877,0,0,1,-10.70,0)">LOCAL VÉLOS</text>
<text x="121.89" y="803.50" font-size="19.79" font-weight="bold" fill="#dcc52c" stroke="#dcc52c" stroke-width="0.5" stroke-linejoin="round" transform="matrix(1.1448,0,0,1,-17.64,0)">DE 50 M²</text>
<text x="475.00" y="590.40" font-size="12.79" font-weight="bold" fill="#a7a7a7" stroke="#a7a7a7" stroke-width="0.4" stroke-linejoin="round" transform="matrix(1.0419,0,0,1,-19.89,0)">ESPACE</text>
<text x="488.16" y="604.20" font-size="12.86" font-weight="bold" fill="#a7a7a7" stroke="#a7a7a7" stroke-width="0.4" stroke-linejoin="round" transform="matrix(1.0540,0,0,1,-26.37,0)">COKO</text>
<text x="473.79" y="761.70" font-size="12.86" font-weight="bold" fill="#a7a7a7" stroke="#a7a7a7" stroke-width="0.4" stroke-linejoin="round" transform="matrix(1.0471,0,0,1,-22.31,0)">ENTRÉE</text>
<text x="461.29" y="775.40" font-size="12.79" font-weight="bold" fill="#a7a7a7" stroke="#a7a7a7" stroke-width="0.4" stroke-linejoin="round" transform="matrix(1.0551,0,0,1,-25.40,0)">BUREAUX</text>
<text x="473.79" y="799.55" font-size="12.50" font-weight="bold" fill="#a7a7a7" stroke="#a7a7a7" stroke-width="0.4" stroke-linejoin="round" transform="matrix(1.0770,0,0,1,-36.48,0)">ENTRÉE</text>
<text x="471.26" y="813.55" font-size="12.79" font-weight="bold" fill="#a7a7a7" stroke="#a7a7a7" stroke-width="0.4" stroke-linejoin="round" transform="matrix(1.0909,0,0,1,-42.83,0)">NINKASI</text>
<text x="1047.92" y="46.95" font-size="16.29" font-weight="bold" fill="#63bfbf" stroke="#63bfbf" stroke-width="0.5" stroke-linejoin="round" transform="matrix(1.0079,0,0,1,-8.31,0)">SURFACE</text>
<text x="1047.93" y="62.75" font-size="15.86" font-weight="bold" fill="#63bfbf" stroke="#63bfbf" stroke-width="0.5" stroke-linejoin="round" transform="matrix(1.0079,0,0,1,-8.31,0)">SUBL M²</text>
<text x="1180.09" y="46.95" font-size="16.29" font-weight="bold" fill="#63bfbf" stroke="#63bfbf" stroke-width="0.5" stroke-linejoin="round" transform="matrix(0.9769,0,0,1,27.21,0)">TERRASSES</text>
<text x="1179.29" y="62.75" font-size="15.86" font-weight="bold" fill="#63bfbf" stroke="#63bfbf" stroke-width="0.5" stroke-linejoin="round" transform="matrix(1.0079,0,0,1,-9.35,0)">M²</text>
<text x="1308.25" y="46.95" font-size="16.29" font-weight="bold" fill="#63bfbf" stroke="#63bfbf" stroke-width="0.5" stroke-linejoin="round" transform="matrix(1.0197,0,0,1,-25.81,0)">BLACONS</text>
<text x="1308.29" y="62.75" font-size="15.86" font-weight="bold" fill="#63bfbf" stroke="#63bfbf" stroke-width="0.5" stroke-linejoin="round" transform="matrix(1.0079,0,0,1,-10.38,0)">M²</text>
<text x="831.00" y="127.80" font-size="27.10" font-weight="normal" fill="#9a9a9a" stroke="#fff" stroke-width="0.35" stroke-linejoin="round" transform="matrix(1.0627,0,0,1,-52.10,0)">R+8</text>
<text x="911.70" y="112.00" font-size="12.70" font-weight="bold" fill="#a0a0a0" stroke="#fff" stroke-width="0.2" stroke-linejoin="round" transform="matrix(1.0529,0,0,1,-48.19,0)">Bureaux</text>
<text x="912.23" y="127.00" font-size="12.70" font-weight="bold" fill="#a0a0a0" stroke="#fff" stroke-width="0.2" stroke-linejoin="round" transform="matrix(1.0529,0,0,1,-48.21,0)">Salle de réunion</text>
<text x="911.70" y="141.70" font-size="12.70" font-weight="bold" fill="#a0a0a0" stroke="#fff" stroke-width="0.2" stroke-linejoin="round" transform="matrix(1.0529,0,0,1,-48.19,0)">Loggia</text>
<text x="1049.19" y="131.20" font-size="30.43" font-weight="bold" fill="#63bfbf" stroke="#63bfbf" stroke-width="1.0" stroke-linejoin="round" transform="matrix(1.1659,0,0,1,-174.08,0)">386</text>
<rect x="1180.4" y="119.3" width="11.2" height="5.5" fill="#63bfbf"/>
<text x="1309.85" y="131.20" font-size="30.43" font-weight="bold" fill="#63bfbf" stroke="#63bfbf" stroke-width="1.0" stroke-linejoin="round" transform="matrix(1.1529,0,0,1,-200.27,0)">27</text>
<text x="831.03" y="201.70" font-size="26.67" font-weight="normal" fill="#9a9a9a" stroke="#fff" stroke-width="0.35" stroke-linejoin="round" transform="matrix(1.0627,0,0,1,-52.10,0)">R+7</text>
<text x="911.70" y="183.70" font-size="12.70" font-weight="bold" fill="#a0a0a0" stroke="#fff" stroke-width="0.2" stroke-linejoin="round" transform="matrix(1.0529,0,0,1,-48.19,0)">Bureaux</text>
<text x="912.23" y="198.70" font-size="12.70" font-weight="bold" fill="#a0a0a0" stroke="#fff" stroke-width="0.2" stroke-linejoin="round" transform="matrix(1.0529,0,0,1,-48.21,0)">Salle de réunion</text>
<text x="911.70" y="213.00" font-size="12.70" font-weight="bold" fill="#a0a0a0" stroke="#fff" stroke-width="0.2" stroke-linejoin="round" transform="matrix(1.0529,0,0,1,-48.19,0)">Loggia + terrasse</text>
<text x="1048.78" y="205.10" font-size="30.57" font-weight="bold" fill="#63bfbf" stroke="#63bfbf" stroke-width="1.0" stroke-linejoin="round" transform="matrix(1.2254,0,0,1,-236.38,0)">508</text>
<text x="1178.99" y="205.10" font-size="30.57" font-weight="bold" fill="#63bfbf" stroke="#63bfbf" stroke-width="1.0" stroke-linejoin="round" transform="matrix(1.0402,0,0,1,-47.40,0)">152</text>
<text x="1310.53" y="205.10" font-size="30.57" font-weight="bold" fill="#63bfbf" stroke="#63bfbf" stroke-width="1.0" stroke-linejoin="round" transform="matrix(1.2027,0,0,1,-265.62,0)">46</text>
<text x="830.98" y="276.80" font-size="27.25" font-weight="normal" fill="#9a9a9a" stroke="#fff" stroke-width="0.35" stroke-linejoin="round" transform="matrix(1.0627,0,0,1,-52.10,0)">R+6</text>
<text x="911.70" y="261.30" font-size="12.70" font-weight="bold" fill="#a0a0a0" stroke="#fff" stroke-width="0.2" stroke-linejoin="round" transform="matrix(1.0529,0,0,1,-48.19,0)">Bureaux</text>
<text x="912.23" y="275.40" font-size="12.70" font-weight="bold" fill="#a0a0a0" stroke="#fff" stroke-width="0.2" stroke-linejoin="round" transform="matrix(1.0529,0,0,1,-48.21,0)">Salle de réunion</text>
<text x="911.70" y="290.40" font-size="12.70" font-weight="bold" fill="#a0a0a0" stroke="#fff" stroke-width="0.2" stroke-linejoin="round" transform="matrix(1.0529,0,0,1,-48.19,0)">Loggia + terrasse</text>
<text x="1048.35" y="279.60" font-size="31.57" font-weight="bold" fill="#63bfbf" stroke="#63bfbf" stroke-width="1.0" stroke-linejoin="round" transform="matrix(1.2254,0,0,1,-236.25,0)">700</text>
<rect x="1180.4" y="266.9" width="11.2" height="6.5" fill="#63bfbf"/>
<text x="1309.85" y="279.60" font-size="31.57" font-weight="bold" fill="#63bfbf" stroke="#63bfbf" stroke-width="1.0" stroke-linejoin="round" transform="matrix(1.1112,0,0,1,-145.60,0)">26</text>
<text x="831.02" y="350.50" font-size="26.81" font-weight="normal" fill="#9a9a9a" stroke="#fff" stroke-width="0.35" stroke-linejoin="round" transform="matrix(1.0627,0,0,1,-52.10,0)">R+5</text>
<text x="911.70" y="335.30" font-size="12.70" font-weight="bold" fill="#a0a0a0" stroke="#fff" stroke-width="0.2" stroke-linejoin="round" transform="matrix(1.0529,0,0,1,-48.19,0)">Bureaux</text>
<text x="912.23" y="350.20" font-size="12.70" font-weight="bold" fill="#a0a0a0" stroke="#fff" stroke-width="0.2" stroke-linejoin="round" transform="matrix(1.0529,0,0,1,-48.21,0)">Salle de réunion</text>
<text x="911.70" y="364.10" font-size="12.70" font-weight="bold" fill="#a0a0a0" stroke="#fff" stroke-width="0.2" stroke-linejoin="round" transform="matrix(1.0529,0,0,1,-48.19,0)">Loggia</text>
<text x="1048.34" y="352.90" font-size="30.43" font-weight="bold" fill="#63bfbf" stroke="#63bfbf" stroke-width="1.0" stroke-linejoin="round" transform="matrix(1.2838,0,0,1,-297.47,0)">700</text>
<rect x="1180.4" y="340.5" width="11.2" height="6.0" fill="#63bfbf"/>
<text x="1309.86" y="352.90" font-size="30.43" font-weight="bold" fill="#63bfbf" stroke="#63bfbf" stroke-width="1.0" stroke-linejoin="round" transform="matrix(1.1372,0,0,1,-179.70,0)">53</text>
<text x="831.02" y="425.30" font-size="26.81" font-weight="normal" fill="#9a9a9a" stroke="#fff" stroke-width="0.35" stroke-linejoin="round" transform="matrix(1.0627,0,0,1,-52.10,0)">R+4</text>
<text x="911.70" y="409.00" font-size="12.70" font-weight="bold" fill="#a0a0a0" stroke="#fff" stroke-width="0.2" stroke-linejoin="round" transform="matrix(1.0529,0,0,1,-48.19,0)">Bureaux</text>
<text x="912.23" y="423.70" font-size="12.70" font-weight="bold" fill="#a0a0a0" stroke="#fff" stroke-width="0.2" stroke-linejoin="round" transform="matrix(1.0529,0,0,1,-48.21,0)">Salle de réunion</text>
<text x="911.70" y="438.10" font-size="12.70" font-weight="bold" fill="#a0a0a0" stroke="#fff" stroke-width="0.2" stroke-linejoin="round" transform="matrix(1.0529,0,0,1,-48.19,0)">Loggia + terrasse</text>
<text x="1048.49" y="428.20" font-size="30.43" font-weight="bold" fill="#63bfbf" stroke="#63bfbf" stroke-width="1.0" stroke-linejoin="round" transform="matrix(1.1599,0,0,1,-167.68,0)">783</text>
<rect x="1180.4" y="415.5" width="11.2" height="6.0" fill="#63bfbf"/>
<text x="1309.85" y="428.20" font-size="30.43" font-weight="bold" fill="#63bfbf" stroke="#63bfbf" stroke-width="1.0" stroke-linejoin="round" transform="matrix(1.1498,0,0,1,-196.15,0)">26</text>
<text x="830.95" y="498.90" font-size="27.68" font-weight="normal" fill="#9a9a9a" stroke="#fff" stroke-width="0.35" stroke-linejoin="round" transform="matrix(1.0627,0,0,1,-52.10,0)">R+3</text>
<text x="911.70" y="483.50" font-size="12.70" font-weight="bold" fill="#a0a0a0" stroke="#fff" stroke-width="0.2" stroke-linejoin="round" transform="matrix(1.0529,0,0,1,-48.19,0)">Bureaux</text>
<text x="912.23" y="497.70" font-size="12.70" font-weight="bold" fill="#a0a0a0" stroke="#fff" stroke-width="0.2" stroke-linejoin="round" transform="matrix(1.0529,0,0,1,-48.21,0)">Salle de réunion</text>
<text x="911.70" y="512.50" font-size="12.70" font-weight="bold" fill="#a0a0a0" stroke="#fff" stroke-width="0.2" stroke-linejoin="round" transform="matrix(1.0529,0,0,1,-48.19,0)">Loggia + terrasse</text>
<text x="1048.48" y="502.00" font-size="30.43" font-weight="bold" fill="#63bfbf" stroke="#63bfbf" stroke-width="1.0" stroke-linejoin="round" transform="matrix(1.1702,0,0,1,-178.49,0)">762</text>
<text x="1180.66" y="502.00" font-size="30.43" font-weight="bold" fill="#63bfbf" stroke="#63bfbf" stroke-width="1.0" stroke-linejoin="round" transform="matrix(1.1372,0,0,1,-161.97,0)">93</text>
<text x="1309.86" y="502.00" font-size="30.43" font-weight="bold" fill="#63bfbf" stroke="#63bfbf" stroke-width="1.0" stroke-linejoin="round" transform="matrix(1.1372,0,0,1,-179.70,0)">52</text>
<text x="831.03" y="574.10" font-size="26.67" font-weight="normal" fill="#9a9a9a" stroke="#fff" stroke-width="0.35" stroke-linejoin="round" transform="matrix(1.0627,0,0,1,-52.10,0)">R+2</text>
<text x="911.70" y="557.90" font-size="12.70" font-weight="bold" fill="#a0a0a0" stroke="#fff" stroke-width="0.2" stroke-linejoin="round" transform="matrix(1.0529,0,0,1,-48.19,0)">Bureaux</text>
<text x="912.23" y="572.10" font-size="12.70" font-weight="bold" fill="#a0a0a0" stroke="#fff" stroke-width="0.2" stroke-linejoin="round" transform="matrix(1.0529,0,0,1,-48.21,0)">Salle de réunion</text>
<text x="911.70" y="586.90" font-size="12.70" font-weight="bold" fill="#a0a0a0" stroke="#fff" stroke-width="0.2" stroke-linejoin="round" transform="matrix(1.0529,0,0,1,-48.19,0)">Espace CoKO</text>
<text x="1048.12" y="576.60" font-size="31.71" font-weight="bold" fill="#63bfbf" stroke="#63bfbf" stroke-width="1.0" stroke-linejoin="round" transform="matrix(1.1670,0,0,1,-174.99,0)">705</text>
<rect x="1180.7" y="563.9" width="10.9" height="5.9" fill="#63bfbf"/>
<rect x="1310.0" y="563.9" width="11.6" height="5.9" fill="#63bfbf"/>
<text x="830.96" y="652.20" font-size="27.54" font-weight="normal" fill="#9a9a9a" stroke="#fff" stroke-width="0.35" stroke-linejoin="round" transform="matrix(1.0627,0,0,1,-52.10,0)">R+1</text>
<text x="911.70" y="646.50" font-size="12.70" font-weight="bold" fill="#a0a0a0" stroke="#fff" stroke-width="0.2" stroke-linejoin="round" transform="matrix(1.0529,0,0,1,-48.19,0)">Brasserie Ninkasi</text>
<rect x="1049.1" y="638.8" width="11.3" height="6.6" fill="#63bfbf"/>
<rect x="1180.7" y="638.8" width="10.9" height="6.6" fill="#63bfbf"/>
<rect x="1310.0" y="638.8" width="11.6" height="6.6" fill="#63bfbf"/>
<text x="831.03" y="729.80" font-size="25.94" font-weight="normal" fill="#9a9a9a" stroke="#fff" stroke-width="0.35" stroke-linejoin="round" transform="matrix(1.0939,0,0,1,-78.07,0)">RDC</text>
<text x="911.70" y="719.30" font-size="12.70" font-weight="bold" fill="#a0a0a0" stroke="#fff" stroke-width="0.2" stroke-linejoin="round" transform="matrix(1.0529,0,0,1,-48.19,0)">Entrée bureaux</text>
<text x="911.70" y="734.30" font-size="12.70" font-weight="bold" fill="#a0a0a0" stroke="#fff" stroke-width="0.2" stroke-linejoin="round" transform="matrix(1.0529,0,0,1,-48.19,0)">Brasserie Ninkasi</text>
<rect x="1049.1" y="720.6" width="11.3" height="6.7" fill="#63bfbf"/>
<rect x="1180.7" y="720.6" width="10.9" height="6.7" fill="#63bfbf"/>
<rect x="1310.0" y="720.6" width="11.6" height="6.7" fill="#63bfbf"/>
<text x="832.62" y="800.50" font-size="25.86" font-weight="bold" fill="#a7a7a7" stroke="#a7a7a7" stroke-width="0.8" stroke-linejoin="round" transform="matrix(1.0833,0,0,1,-69.37,0)">TOTAL</text>
<text x="1020.03" y="803.70" font-size="31.29" font-weight="bold" fill="#63bfbf" stroke="#63bfbf" stroke-width="1.0" stroke-linejoin="round" transform="matrix(1.1844,0,0,1,-188.10,0)">4 544</text>
<text x="1176.79" y="803.70" font-size="31.29" font-weight="bold" fill="#63bfbf" stroke="#63bfbf" stroke-width="1.0" stroke-linejoin="round" transform="matrix(1.1816,0,0,1,-213.65,0)">245</text>
<text x="1309.38" y="803.70" font-size="31.29" font-weight="bold" fill="#63bfbf" stroke="#63bfbf" stroke-width="1.0" stroke-linejoin="round" transform="matrix(1.1889,0,0,1,-247.38,0)">230</text>
<text x="372.69" y="625.90" font-size="8.60" font-weight="normal" fill="#4a4a4a" transform="matrix(1.0361,0,0,1,-13.46,0)">Espaces</text>
<text x="373.04" y="637.00" font-size="8.60" font-weight="normal" fill="#4a4a4a" transform="matrix(1.0361,0,0,1,-13.48,0)">extérieurs</text>
<text x="373.04" y="654.70" font-size="8.60" font-weight="normal" fill="#4a4a4a" transform="matrix(1.0361,0,0,1,-13.48,0)">Sanitaires</text>
<text x="373.40" y="670.80" font-size="8.60" font-weight="normal" fill="#4a4a4a" transform="matrix(1.0361,0,0,1,-13.49,0)">Ascenseurs</text>
<text x="373.13" y="681.70" font-size="8.60" font-weight="normal" fill="#4a4a4a" transform="matrix(1.0361,0,0,1,-13.48,0)">&amp; escaliers</text>
<text x="372.69" y="698.80" font-size="8.60" font-weight="normal" fill="#4a4a4a" transform="matrix(1.0361,0,0,1,-13.46,0)">Logements</text>
<text x="372.69" y="722.00" font-size="8.60" font-weight="normal" fill="#4a4a4a" transform="matrix(1.0361,0,0,1,-13.46,0)">Espace CoKo</text>
<text x="372.69" y="744.80" font-size="8.60" font-weight="normal" fill="#4a4a4a" transform="matrix(1.0361,0,0,1,-13.46,0)">Bureaux</text>
<text x="372.69" y="767.80" font-size="8.60" font-weight="normal" fill="#4a4a4a" transform="matrix(1.0361,0,0,1,-13.46,0)">Brasserie</text>
<text x="372.95" y="789.00" font-size="8.60" font-weight="normal" fill="#4a4a4a" transform="matrix(1.0361,0,0,1,-13.47,0)">Circulation</text>
<text x="372.69" y="811.30" font-size="8.60" font-weight="normal" fill="#4a4a4a" transform="matrix(1.0361,0,0,1,-13.46,0)">Parkings</text>
</svg>
</body></html>
